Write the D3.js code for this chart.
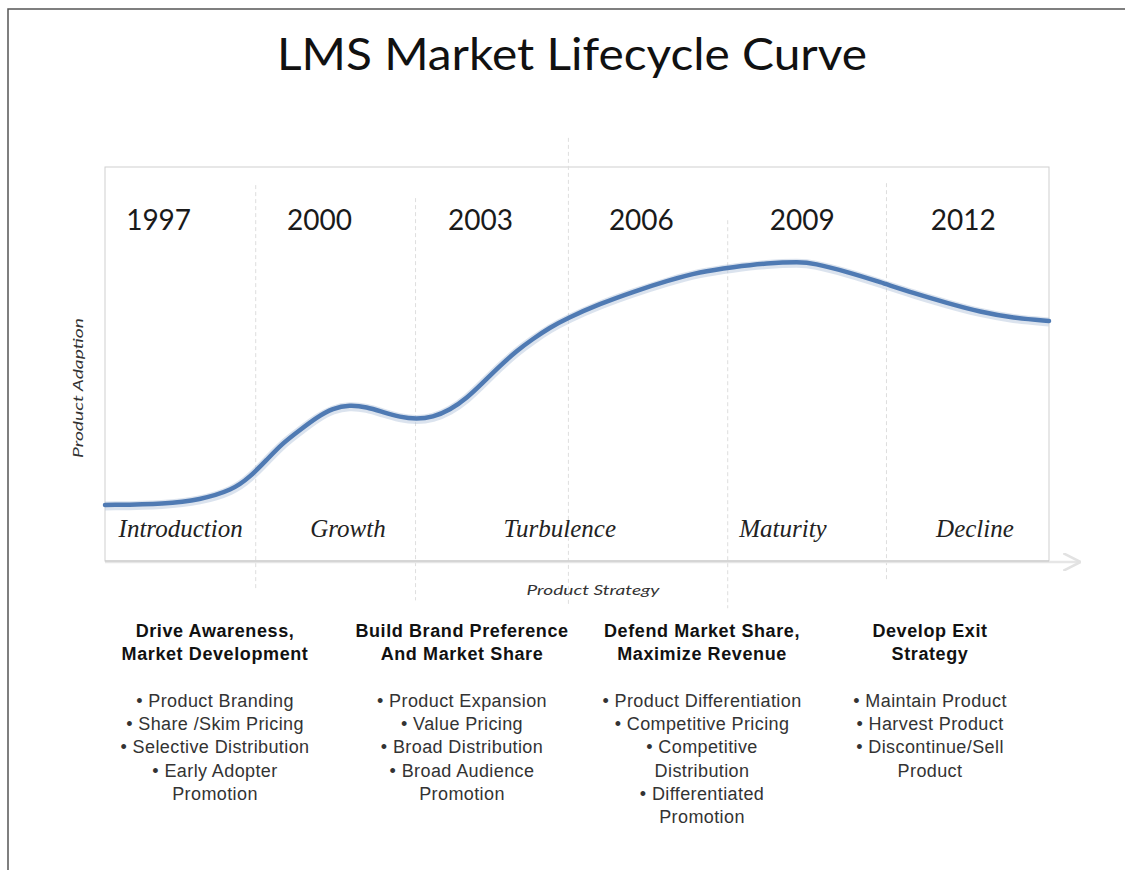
<!DOCTYPE html>
<html lang="en">
<head>
<meta charset="UTF-8">
<script src="https://cdnjs.cloudflare.com/ajax/libs/d3/7.8.5/d3.min.js"></script>
<title>LMS Market Lifecycle Curve</title>
<style>
    body { margin: 0; background: #fff; }
    svg { display: block; }
</style>
</head>
<body>
<svg id="chart" width="1125" height="870"></svg>
<script>
// data
const yearLabels = ["1997", "2000", "2003", "2006", "2009", "2012"];

const curveYear = [1996.0, 1997.15, 1997.76, 1998.38, 1998.70, 1999.01, 1999.31, 1999.63, 1999.95,
    2000.25, 2000.56, 2000.88, 2001.18, 2001.50, 2001.81, 2002.11, 2002.43, 2002.75, 2003.04,
    2003.36, 2003.67, 2003.98, 2004.29, 2004.61, 2005.23, 2005.84, 2006.48, 2007.09, 2007.71,
    2008.34, 2008.96, 2009.20, 2009.84, 2010.45, 2011.07, 2011.70, 2012.32, 2012.93, 2013.60];
const curveAdoption = [14.2, 14.5, 15.5, 18.0, 21.3, 25.6, 29.9, 33.2, 36.5,
    38.8, 39.6, 39.1, 37.8, 36.5, 36.0, 36.5, 38.3, 41.4, 45.2,
    49.5, 53.3, 56.4, 59.2, 61.6, 65.3, 68.3, 71.1, 73.4, 74.6,
    75.6, 75.9, 75.6, 73.4, 70.8, 68.0, 65.5, 63.2, 61.7, 60.9];

const stageNames = ["Introduction", "Growth", "Turbulence", "Maturity", "Decline"];
const stageYear = [1997.41, 2000.53, 2004.48, 2008.64, 2012.22];

const dividerYear = [1998.81, 2001.79, 2004.64, 2007.61, 2010.57];
const dividerTop = [95.4, 92.1, 107.4, 86.5, 95.9];
const dividerBottom = [-7, -10, -11, -12, -5];

const strategyTitles = [
    ["Drive Awareness,", "Market Development"],
    ["Build Brand Preference", "And Market Share"],
    ["Defend Market Share,", "Maximize Revenue"],
    ["Develop Exit", "Strategy"]
];
const strategyItems = [
    ["\u2022 Product Branding", "\u2022 Share /Skim Pricing", "\u2022 Selective Distribution", "\u2022 Early Adopter", "Promotion"],
    ["\u2022  Product Expansion", "\u2022 Value Pricing", "\u2022 Broad Distribution", "\u2022 Broad Audience", "Promotion"],
    ["\u2022  Product Differentiation", "\u2022 Competitive Pricing", "\u2022 Competitive", "Distribution", "\u2022 Differentiated", "Promotion"],
    ["\u2022 Maintain Product", "\u2022 Harvest Product", "\u2022 Discontinue/Sell", "Product"]
];

const svg = d3.select("#chart");

// outer frame (top + left only)
svg.append("path")
    .attr("d", "M8,870 L8,9 L1125,9")
    .attr("fill", "none")
    .attr("stroke", "#555")
    .attr("stroke-width", 1.5);

svg.append("text")
    .attr("x", 572).attr("y", 70)
    .attr("text-anchor", "middle")
    .attr("textLength", 590)
    .attr("lengthAdjust", "spacingAndGlyphs")
    .style("font-family", "Lato, 'Open Sans', sans-serif")
    .style("font-size", "44px")
    .style("fill", "#111")
    .text("LMS Market Lifecycle Curve");

const x = d3.scaleLinear().domain([1996, 2013.6]).range([105, 1049]);
const y = d3.scaleLinear().domain([0, 100]).range([561, 167]);

// plot box
svg.append("rect")
    .attr("x", x(1996)).attr("y", y(100))
    .attr("width", x(2013.6) - x(1996)).attr("height", y(0) - y(100))
    .attr("fill", "none")
    .attr("stroke", "#cfcfcf")
    .attr("stroke-width", 1);

// dashed dividers
svg.selectAll(".divider")
    .data(dividerYear)
    .enter()
    .append("line")
        .attr("class", "divider")
        .attr("x1", d => x(d)).attr("x2", d => x(d))
        .attr("y1", (d, i) => y(dividerTop[i]))
        .attr("y2", (d, i) => y(dividerBottom[i]))
        .attr("stroke", "#dedede")
        .attr("stroke-width", 1)
        .attr("stroke-dasharray", "4,3");

// x axis arrow
const defs = svg.append("defs");
defs.append("marker")
    .attr("id", "arrow")
    .attr("viewBox", "0 0 10 10")
    .attr("refX", 9).attr("refY", 5)
    .attr("markerWidth", 7).attr("markerHeight", 7)
    .attr("orient", "auto")
    .append("path")
        .attr("d", "M0,0 L10,5 L0,10")
        .attr("fill", "none")
        .attr("stroke", "#e2e2e2")
        .attr("stroke-width", 1.5);

svg.append("line")
    .attr("x1", x(1996)).attr("x2", x(2013.6) + 30)
    .attr("y1", y(0) + 1).attr("y2", y(0) + 1)
    .attr("stroke", "#e6e6e6")
    .attr("stroke-width", 2.5)
    .attr("marker-end", "url(#arrow)");
svg.append("line")
    .attr("x1", x(1996)).attr("x2", x(2013.6))
    .attr("y1", y(0)).attr("y2", y(0))
    .attr("stroke", "#c4c4c4")
    .attr("stroke-width", 1);

// year labels
svg.selectAll(".year")
    .data(yearLabels)
    .enter()
    .append("text")
        .attr("class", "year")
        .attr("x", d => x(+d))
        .attr("y", 230)
        .attr("text-anchor", "middle")
        .style("font-family", "Lato, 'Open Sans', sans-serif")
        .style("font-size", "28px")
        .style("fill", "#1a1a1a")
        .text(d => d);

// lifecycle curve
const points = curveYear.map((d, i) => [d, curveAdoption[i]]);
const line = d3.line()
    .x(d => x(d[0]))
    .y(d => y(d[1]))
    .curve(d3.curveBasis);

svg.append("path")
    .attr("d", line(points))
    .attr("fill", "none")
    .attr("stroke", "#b7c7de")
    .attr("stroke-width", 9)
    .attr("stroke-opacity", 0.5)
    .attr("transform", "translate(0,1)");
svg.append("path")
    .attr("d", line(points))
    .attr("fill", "none")
    .attr("stroke", "#4f7ab3")
    .attr("stroke-width", 4.5)
    .attr("stroke-linecap", "round");

// stage labels
svg.selectAll(".stage")
    .data(stageNames)
    .enter()
    .append("text")
        .attr("class", "stage")
        .attr("x", (d, i) => x(stageYear[i]))
        .attr("y", 537)
        .attr("text-anchor", "middle")
        .style("font-family", "'Liberation Serif', serif")
        .style("font-style", "italic")
        .style("font-size", "25px")
        .style("fill", "#222")
        .text(d => d);

// axis titles
svg.append("text")
    .attr("transform", "translate(83,388) rotate(-90)")
    .attr("text-anchor", "middle")
    .attr("textLength", 140)
    .attr("lengthAdjust", "spacingAndGlyphs")
    .style("font-family", "Lato, sans-serif")
    .style("font-style", "italic")
    .style("font-size", "14px")
    .style("fill", "#333")
    .text("Product Adaption");

svg.append("text")
    .attr("x", 593).attr("y", 595)
    .attr("text-anchor", "middle")
    .attr("textLength", 133)
    .attr("lengthAdjust", "spacingAndGlyphs")
    .style("font-family", "Lato, sans-serif")
    .style("font-style", "italic")
    .style("font-size", "14px")
    .style("fill", "#333")
    .text("Product Strategy");

// strategy columns below
const colX = [215, 462, 702, 930];
const cols = svg.selectAll(".strategy")
    .data(strategyTitles)
    .enter()
    .append("g")
        .attr("class", "strategy")
        .attr("transform", (d, i) => "translate(" + colX[i] + ",0)");

cols.selectAll(".head")
    .data(d => d)
    .enter()
    .append("text")
        .attr("class", "head")
        .attr("x", 0)
        .attr("y", (d, i) => 637 + i * 23)
        .attr("text-anchor", "middle")
        .style("font-family", "'Liberation Sans', Arial, sans-serif")
        .style("font-weight", "bold")
        .style("font-size", "18px")
        .style("letter-spacing", "0.6px")
        .style("fill", "#111")
        .text(d => d);

cols.selectAll(".item")
    .data((d, i) => strategyItems[i])
    .enter()
    .append("text")
        .attr("class", "item")
        .attr("x", 0)
        .attr("y", (d, i) => 707 + i * 23.2)
        .attr("text-anchor", "middle")
        .style("font-family", "'Liberation Sans', Arial, sans-serif")
        .style("font-size", "18px")
        .style("letter-spacing", "0.4px")
        .style("fill", "#333")
        .text(d => d);
</script>
</body>
</html>
